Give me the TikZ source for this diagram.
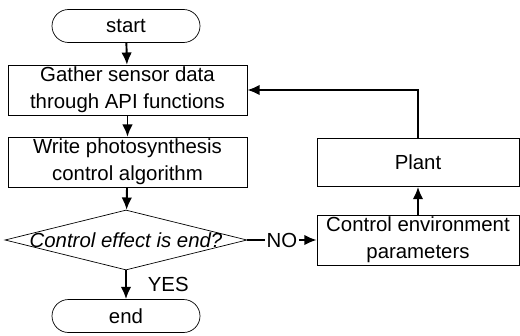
\documentclass[tikz,border=0pt]{standalone}
\usepackage{fontspec}
\setmainfont{Liberation Sans}
\usetikzlibrary{shapes.geometric,arrows.meta}
\begin{document}
\begin{tikzpicture}[
		txt/.style={font=\fontsize{11.6}{15.5}\selectfont},
		box/.style={draw, txt, align=center, inner sep=1pt, minimum width=4.78cm, minimum height=0.96cm},
		sidebox/.style={box, minimum width=4.04cm},
		term/.style={draw, txt, rounded corners=0.33cm, minimum width=2.96cm, minimum height=0.66cm},
		decision/.style={draw, txt, diamond, aspect=4, inner xsep=-6pt, inner ysep=0pt, minimum width=4.84cm, minimum height=1.2cm, font=\fontsize{11.6}{15.5}\selectfont\itshape},
		flow/.style={-{Latex[length=7pt,width=6pt]}, line width=1.1pt}
	]
		\useasboundingbox (0, 0) rectangle (10.4, -6.7);
		
		% main column
		\node[term] (start) at (2.52, -0.52) {start};
		\node[box] (gather) at (2.55, -1.8) {Gather sensor data\\through API functions};
		\node[box] (write) at (2.55, -3.24) {Write photosynthesis\\control algorithm};
		\node[decision] (check) at (2.52, -4.8) {Control effect is end?};
		\node[term] (end) at (2.52, -6.32) {end};
		
		% loop back
		\node[sidebox] (control) at (8.36, -4.8) {Control environment\\parameters};
		\node[sidebox] (plant) at (8.36, -3.25) {Plant};
		
		\draw[flow] (start) -- (gather);
		\draw[flow] (gather) -- (write);
		\draw[flow] (write) -- (check);
		\draw[flow] (check) -- node[right, txt, xshift=0.3cm] {YES} (end);
		\draw[flow] (check) -- node[txt, fill=white, inner sep=1pt] {NO} (control);
		\draw[flow] (control) -- (plant);
		\draw[flow] (plant.north) |- (gather.east);
		\end{tikzpicture}
\end{document}
